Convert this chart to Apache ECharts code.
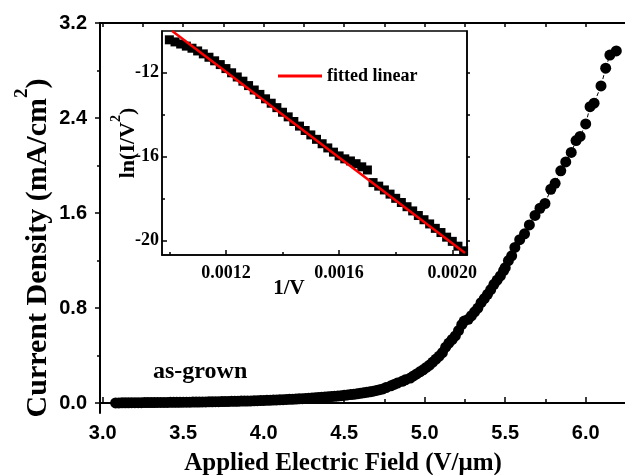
<!DOCTYPE html>
<html>
<head>
<meta charset="utf-8">
<script src="https://cdn.jsdelivr.net/npm/echarts@6/dist/echarts.min.js"></script>
<style>
html, body { margin: 0; padding: 0; background: #fff; }
#chart { width: 625px; height: 475px; }
</style>
</head>
<body>
<div id="chart"></div>
<script>
// J-E curve (main plot)
var fieldVals = [
  3.08, 3.10, 3.12, 3.14, 3.16, 3.18, 3.20, 3.22, 3.24, 3.26, 3.28, 3.30, 3.32, 3.34, 3.36, 3.38, 3.40,
  3.42, 3.44, 3.46, 3.48, 3.50, 3.52, 3.54, 3.56, 3.58, 3.60, 3.62, 3.64, 3.66, 3.68, 3.70, 3.72, 3.74, 3.76, 3.78, 3.80,
  3.82, 3.84, 3.86, 3.88, 3.90, 3.92, 3.94, 3.96, 3.98, 4.00, 4.02, 4.04, 4.06, 4.08, 4.10, 4.12, 4.14, 4.16, 4.18, 4.20,
  4.22, 4.24, 4.26, 4.28, 4.30, 4.32, 4.34, 4.36, 4.38, 4.40, 4.42, 4.44, 4.46, 4.48, 4.50, 4.52, 4.54, 4.56, 4.58, 4.60,
  4.62, 4.64, 4.66, 4.68, 4.70, 4.72, 4.74,
  4.76, 4.79, 4.81, 4.83, 4.86, 4.88, 4.91, 4.93, 4.95, 4.97, 4.99, 5.01, 5.03, 5.05, 5.07, 5.09, 5.11, 5.13, 5.15, 5.17,
  5.19, 5.21, 5.23, 5.245, 5.27, 5.29, 5.31, 5.33, 5.35, 5.37, 5.39, 5.41, 5.43, 5.45, 5.47, 5.49, 5.50, 5.52, 5.54, 5.56,
  5.59, 5.62, 5.65, 5.685, 5.716, 5.747, 5.783, 5.81, 5.845, 5.876, 5.91, 5.94, 5.965, 6.0, 6.027, 6.052, 6.095, 6.124, 6.15, 6.19
];
var currentVals = [
  0.001, 0.001, 0.002, 0.002, 0.002, 0.003, 0.003, 0.003, 0.003, 0.004, 0.004, 0.004, 0.004, 0.005, 0.005, 0.005, 0.005,
  0.006, 0.006, 0.006, 0.006, 0.007, 0.007, 0.007, 0.008, 0.008, 0.008, 0.009, 0.009, 0.010, 0.010, 0.011, 0.011, 0.012, 0.012, 0.013, 0.014,
  0.014, 0.015, 0.016, 0.016, 0.017, 0.018, 0.019, 0.020, 0.021, 0.022, 0.023, 0.024, 0.025, 0.026, 0.027, 0.028, 0.030, 0.031, 0.032, 0.034,
  0.035, 0.037, 0.038, 0.040, 0.042, 0.044, 0.046, 0.048, 0.050, 0.052, 0.054, 0.057, 0.059, 0.062, 0.065, 0.068, 0.071, 0.074, 0.078, 0.082,
  0.086, 0.090, 0.095, 0.100, 0.106, 0.112, 0.119,
  0.13, 0.145, 0.157, 0.168, 0.183, 0.195, 0.21, 0.228, 0.245, 0.263, 0.28, 0.30, 0.32, 0.345, 0.37, 0.395, 0.425, 0.47, 0.505, 0.535,
  0.565, 0.61, 0.66, 0.69, 0.705, 0.735, 0.768, 0.80, 0.845, 0.88, 0.915, 0.955, 1.0, 1.035, 1.07, 1.115, 1.14, 1.2, 1.24, 1.31,
  1.375, 1.425, 1.5, 1.58, 1.64, 1.68, 1.8, 1.85, 1.955, 2.03, 2.11, 2.21, 2.245, 2.35, 2.495, 2.525, 2.67, 2.82, 2.93, 2.965
];

// F-N plot (inset)
var invV = [
  0.00100, 0.00102, 0.00104, 0.00106, 0.00108, 0.00110, 0.00112, 0.00114, 0.00116, 0.00118,
  0.00120, 0.00122, 0.00124, 0.00126, 0.00128, 0.00130, 0.00132, 0.00134, 0.00136, 0.00138,
  0.00140, 0.00142, 0.00144, 0.00146, 0.00148, 0.00150, 0.00152, 0.00154, 0.00156, 0.00158,
  0.00160, 0.00162, 0.00164, 0.00166, 0.00168, 0.00170, 0.00172, 0.00174, 0.00176, 0.00178,
  0.00180, 0.00182, 0.00184, 0.00186, 0.00188, 0.00190, 0.00192, 0.00194, 0.00196, 0.00198,
  0.00200, 0.00202, 0.00204
];
var lnIV2 = [
  -10.45, -10.55, -10.65, -10.75, -10.85, -10.98, -11.12, -11.28, -11.45, -11.63,
  -11.82, -12.02, -12.22, -12.42, -12.63, -12.84, -13.05, -13.26, -13.47, -13.68,
  -13.9, -14.12, -14.34, -14.56, -14.77, -14.98, -15.19, -15.40, -15.6, -15.8,
  -15.98, -16.12, -16.22, -16.35, -16.5, -16.65, -17.25, -17.42, -17.6, -17.8,
  -18.0, -18.2, -18.4, -18.6, -18.82, -19.02, -19.22, -19.43, -19.63, -19.85,
  -20.05, -20.28, -20.5
];
var fitX = [0.00101, 0.002045];
var fitY = [-10.03, -20.6];

// ticks
var xTicks = [3.0, 3.5, 4.0, 4.5, 5.0, 5.5, 6.0];
var xMinor = [3.25, 3.75, 4.25, 4.75, 5.25, 5.75];
var yTicks = [0, 0.8, 1.6, 2.4, 3.2];
var yMinor = [0.4, 1.2, 2.0, 2.8];
var inXTicks = [0.0012, 0.0016, 0.0020];
var inXMinor = [0.0010, 0.0014, 0.0018];
var inYTicks = [-20, -16, -12];
var inYMinor = [-18, -14, -10];

var sans = "'Liberation Sans', Arial, sans-serif";
var serif = "'Liberation Serif', 'Times New Roman', serif";

function zip(a, b) {
  var out = [];
  for (var i = 0; i < a.length; i++) out.push([a[i], b[i]]);
  return out;
}

var chart = echarts.init(document.getElementById("chart"));

var hidden = { show: false };
var option = {
  animation: false,
  backgroundColor: "#fff",
  grid: [
    { left: 100, top: 23, right: 0, bottom: 62 },
    { left: 162, top: 31, right: 158, bottom: 220, show: true, backgroundColor: "#fff", borderColor: "#000", borderWidth: 1.5 }
  ],
  legend: {
    data: [{ name: "fitted linear", icon: "rect" }],
    left: 273,
    top: 62,
    itemWidth: 44,
    itemHeight: 3,
    textStyle: { fontFamily: serif, fontWeight: "bold", fontSize: 18, color: "#000" }
  },
  xAxis: [
    {
      gridIndex: 0, type: "value", min: 2.983, max: 6.244, position: "bottom",
      axisLine: { lineStyle: { color: "#000", width: 2 } },
      axisTick: { inside: true, length: 6, customValues: xTicks, lineStyle: { width: 1.5 } },
      axisLabel: {
        customValues: xTicks, margin: 10, color: "#000",
        fontFamily: sans, fontWeight: "bold", fontSize: 20,
        formatter: function (v) { return v.toFixed(1); }
      },
      splitLine: hidden
    },
    {
      gridIndex: 0, type: "value", min: 2.983, max: 6.244, position: "bottom",
      axisLine: hidden,
      axisTick: { inside: true, length: 4, customValues: xMinor, lineStyle: { color: "#000", width: 1.5 } },
      axisLabel: hidden, splitLine: hidden
    },
    {
      gridIndex: 0, type: "value", min: 2.983, max: 6.244, position: "top",
      axisLine: { lineStyle: { color: "#000", width: 2 } },
      axisTick: { inside: true, length: 4, customValues: xTicks.concat(xMinor), lineStyle: { width: 1.5 } },
      axisLabel: hidden, splitLine: hidden
    },
    {
      gridIndex: 1, type: "value", min: 0.000974, max: 0.002052, position: "bottom",
      axisLine: { lineStyle: { color: "#000", width: 1.5 } },
      axisTick: { inside: true, length: 5, customValues: inXTicks, lineStyle: { width: 1.5 } },
      axisLabel: {
        customValues: inXTicks, margin: 9, color: "#000",
        fontFamily: serif, fontWeight: "bold", fontSize: 18,
        formatter: function (v) { return v.toFixed(4); }
      },
      splitLine: hidden
    },
    {
      gridIndex: 1, type: "value", min: 0.000974, max: 0.002052, position: "bottom",
      axisLine: hidden,
      axisTick: { inside: true, length: 3, customValues: inXMinor, lineStyle: { color: "#000", width: 1.5 } },
      axisLabel: hidden, splitLine: hidden
    }
  ],
  yAxis: [
    {
      gridIndex: 0, type: "value", min: -0.084, max: 3.2, position: "left",
      axisLine: { lineStyle: { color: "#000", width: 2 } },
      axisTick: { inside: false, length: 5, customValues: yTicks, lineStyle: { width: 1.5 } },
      axisLabel: {
        customValues: yTicks, margin: 13, color: "#000",
        fontFamily: sans, fontWeight: "bold", fontSize: 20,
        formatter: function (v) { return v.toFixed(1); }
      },
      splitLine: hidden
    },
    {
      gridIndex: 0, type: "value", min: -0.084, max: 3.2, position: "left",
      axisLine: hidden,
      axisTick: { inside: false, length: 3, customValues: yMinor, lineStyle: { color: "#000", width: 1.5 } },
      axisLabel: hidden, splitLine: hidden
    },
    {
      gridIndex: 1, type: "value", min: -20.70, max: -10.03, position: "left",
      axisLine: { lineStyle: { color: "#000", width: 1.5 } },
      axisTick: { inside: true, length: 5, customValues: inYTicks, lineStyle: { width: 1.5 } },
      axisLabel: {
        customValues: inYTicks, margin: 3, color: "#000",
        fontFamily: serif, fontWeight: "bold", fontSize: 18
      },
      splitLine: hidden
    },
    {
      gridIndex: 1, type: "value", min: -20.70, max: -10.03, position: "left",
      axisLine: hidden,
      axisTick: { inside: true, length: 3, customValues: inYMinor, lineStyle: { color: "#000", width: 1.5 } },
      axisLabel: hidden, splitLine: hidden
    },
    {
      gridIndex: 1, type: "value", min: -20.70, max: -10.03, position: "right",
      axisLine: { lineStyle: { color: "#000", width: 1.5 } },
      axisTick: { inside: false, length: 3, customValues: inYTicks.concat(inYMinor), lineStyle: { width: 1.5 } },
      axisLabel: hidden, splitLine: hidden
    }
  ],
  series: [
    {
      name: "as-grown",
      type: "line",
      xAxisIndex: 0, yAxisIndex: 0,
      data: zip(fieldVals, currentVals),
      symbol: "circle",
      symbolSize: 11,
      showAllSymbol: true,
      itemStyle: { color: "#000" },
      lineStyle: { color: "#000", width: 1, type: "dashed" },
      z: 3
    },
    {
      name: "data",
      type: "scatter",
      xAxisIndex: 3, yAxisIndex: 2,
      data: zip(invV, lnIV2),
      symbol: "rect",
      symbolSize: 9,
      itemStyle: { color: "#000", opacity: 1, borderWidth: 0 },
      z: 4
    },
    {
      name: "fitted linear",
      type: "line",
      xAxisIndex: 3, yAxisIndex: 2,
      data: zip(fitX, fitY),
      symbol: "none",
      lineStyle: { color: "#ff0000", width: 2.5 },
      itemStyle: { color: "#ff0000" },
      z: 5
    }
  ],
  graphic: [
    {
      type: "text", x: 33, y: 248, rotation: Math.PI / 2,
      style: {
        text: "{t|Current Density (mA/cm}{s|2}{t|)}",
        align: "center", verticalAlign: "middle", fill: "#000",
        rich: {
          t: { fontFamily: serif, fontWeight: "bold", fontSize: 30, lineHeight: 40, verticalAlign: "bottom" },
          s: { fontFamily: serif, fontWeight: "bold", fontSize: 19, lineHeight: 40, verticalAlign: "top" }
        }
      }
    },
    {
      type: "text", x: 343, y: 464,
      style: {
        text: "Applied Electric Field (V/\u03bcm)",
        align: "center", verticalAlign: "middle", fill: "#000",
        font: "bold 25px " + serif
      }
    },
    {
      type: "text", x: 124, y: 143, rotation: Math.PI / 2,
      style: {
        text: "{t|ln(I/V}{s|2}{t|)}",
        align: "center", verticalAlign: "middle", fill: "#000",
        rich: {
          t: { fontFamily: serif, fontWeight: "bold", fontSize: 22, lineHeight: 30, verticalAlign: "bottom" },
          s: { fontFamily: serif, fontWeight: "bold", fontSize: 14, lineHeight: 30, verticalAlign: "top" }
        }
      }
    },
    {
      type: "text", x: 289, y: 289,
      style: {
        text: "1/V", align: "center", verticalAlign: "middle", fill: "#000",
        font: "bold 21px " + serif
      }
    },
    {
      type: "text", x: 153, y: 372,
      style: {
        text: "as-grown", align: "left", verticalAlign: "middle", fill: "#000",
        font: "bold 24px " + serif
      }
    }
  ]
};

chart.setOption(option);
</script>
</body>
</html>
